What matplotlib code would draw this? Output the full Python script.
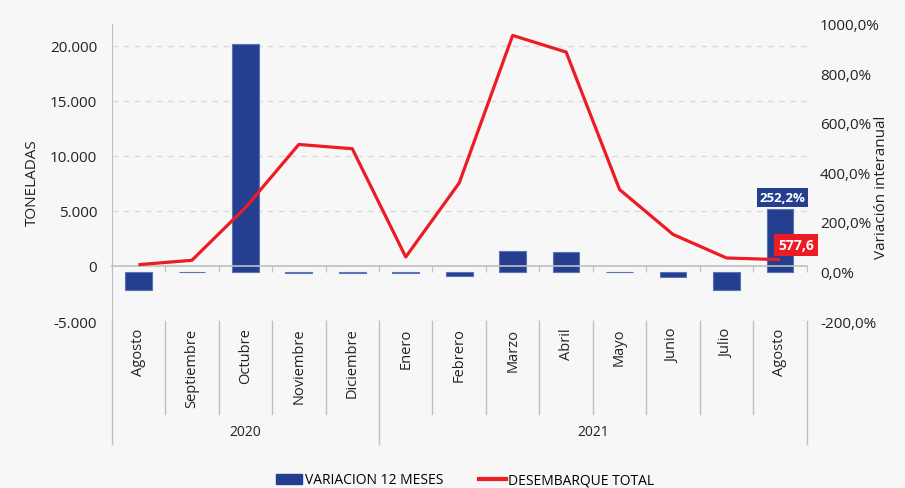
import matplotlib
matplotlib.use("Agg")
import matplotlib.pyplot as plt
import numpy as np
from matplotlib import font_manager
from matplotlib.lines import Line2D
from matplotlib.patches import Patch
from matplotlib.ticker import FuncFormatter
from matplotlib.transforms import blended_transform_factory

# Datos
meses = ["Agosto", "Septiembre", "Octubre", "Noviembre", "Diciembre", "Enero",
         "Febrero", "Marzo", "Abril", "Mayo", "Junio", "Julio", "Agosto"]
anios = ["2020", "2021"]
meses_por_anio = [5, 8]
variacion_12m = [-75, -3, 920, -6, -8, -7, -18, 84, 78, -3, -22, -75, 252.2]   # %
desembarque = [120, 520, 5300, 11050, 10660, 820, 7550, 20960, 19450, 6950,
               2870, 730, 577.6]                                                # toneladas

AZUL = "#243f8f"
ROJO = "#ed1c24"
GRIS = "#bfbfbf"
FONDO = "#f7f7f7"

plt.rcParams["font.family"] = ["Open Sans", "DejaVu Sans"]
_names = {f.name for f in font_manager.fontManager.ttflist}
NARROW = "Liberation Sans Narrow" if "Liberation Sans Narrow" in _names else "Open Sans"
NARROW_SIZE = 11 if NARROW != "Open Sans" else 10

fig = plt.figure(figsize=(9.05, 4.89), dpi=100, facecolor=FONDO)
ax = fig.add_axes([111.7 / 905, 1 - 322 / 489, 695 / 905, 297 / 489])
ax2 = ax.twinx()
ax.set_zorder(2)
ax2.set_zorder(1)
ax.patch.set_visible(False)
ax2.patch.set_visible(False)

x = np.arange(len(meses))
ax.set_xlim(-0.5, len(meses) - 0.5)
ax.set_ylim(-5000, 22000)
ax2.set_ylim(-200, 1000)

# rejilla detrás de las barras
left_ticks = [-5000, 0, 5000, 10000, 15000, 20000]
grid_tr = blended_transform_factory(ax2.transAxes, ax.transData)
for t in left_ticks:
    if t == 0:
        continue
    ax2.plot([0, 1], [t, t], transform=grid_tr, color="#d9d9d9", lw=1,
             dashes=(4, 4), zorder=0.5)

# barras (eje derecho)
ax2.bar(x, variacion_12m, width=0.5, color=AZUL, edgecolor="#5b74b8",
        linewidth=0.8, zorder=2)
# línea (eje izquierdo)
ax.plot(x, desembarque, color=ROJO, lw=2.3, zorder=3, solid_capstyle="butt")

# ejes
ax.set_yticks(left_ticks)
ax.yaxis.set_major_formatter(FuncFormatter(lambda v, p: f"{v:,.0f}".replace(",", ".")))
ax.tick_params(axis="y", length=0, pad=10.5, labelsize=11, labelcolor="#222222")
ax2.set_yticks(np.arange(-200, 1001, 200))
ax2.yaxis.set_major_formatter(FuncFormatter(lambda v, p: f"{v:.1f}%".replace(".", ",")))
ax2.tick_params(axis="y", length=0, pad=9.5, labelsize=11, labelcolor="#222222")

for s in ["top", "right"]:
    ax.spines[s].set_visible(False)
for s in ax2.spines.values():
    s.set_visible(False)
ax.spines["left"].set_color(GRIS)
ax.spines["bottom"].set_position(("data", 0))
ax.spines["bottom"].set_color(GRIS)
ax.spines["bottom"].set_linewidth(1.2)
ax.set_xticks(np.arange(-0.5, len(meses), 1))
ax.tick_params(axis="x", direction="out", length=4, color=GRIS, labelbottom=False)

# etiquetas de categoría debajo del gráfico
lab_tr = blended_transform_factory(ax.transData, ax.transAxes)
for i, m in enumerate(meses):
    ax.text(i, -0.022, m, transform=lab_tr, rotation=90, ha="center", va="top",
            fontsize=10.5, color="#222222")

short_y = (322 - 415) / 297
long_y = (322 - 445) / 297
bounds = np.cumsum([0] + meses_por_anio) - 0.5
for b in np.arange(-0.5, len(meses), 1):
    yb = long_y if b in bounds else short_y
    ax.plot([b, b], [0, yb], transform=lab_tr, color=GRIS, lw=1, clip_on=False)
for k, a in enumerate(anios):
    ax.text((bounds[k] + bounds[k + 1]) / 2, (322 - 433) / 297, a, transform=lab_tr,
            ha="center", va="center", fontsize=NARROW_SIZE, family=NARROW,
            color="#222222")

fig.text(32 / 905, 1 - 183 / 489, "TONELADAS", rotation=90, ha="center", va="center",
         fontsize=11, color="#222222")
fig.text(881 / 905, 1 - 187 / 489, "Variación interanual", rotation=90, ha="center",
         va="center", fontsize=11, color="#222222")

# etiquetas de datos del último mes
ax2.annotate(f"{variacion_12m[-1]:.1f}%".replace(".", ","), xy=(x[-1], variacion_12m[-1]),
             xytext=(1.8, 8.5), textcoords="offset points", ha="center", va="center",
             fontsize=9.5, fontweight="bold", color="white",
             bbox=dict(boxstyle="square,pad=0.22", fc=AZUL, ec="none"))
ax.annotate(f"{desembarque[-1]:.1f}".replace(".", ","), xy=(x[-1], desembarque[-1]),
            xytext=(11.5, 10.5), textcoords="offset points", ha="center", va="center",
            fontsize=10, fontweight="bold", color="white", zorder=5,
            bbox=dict(boxstyle="square,pad=0.3", fc=ROJO, ec="none"))

handles = [Patch(color=AZUL, label="VARIACION 12 MESES"),
           Line2D([0], [0], color=ROJO, lw=3, label="DESEMBARQUE TOTAL")]
fig.legend(handles=handles, loc="center", bbox_to_anchor=(465 / 905, 1 - 481 / 489),
           ncol=2, frameon=False, prop={"family": NARROW, "size": NARROW_SIZE},
           handlelength=1.9, handletextpad=0.2, columnspacing=2.6)

fig.savefig("out.png", dpi=100, facecolor=fig.get_facecolor())
